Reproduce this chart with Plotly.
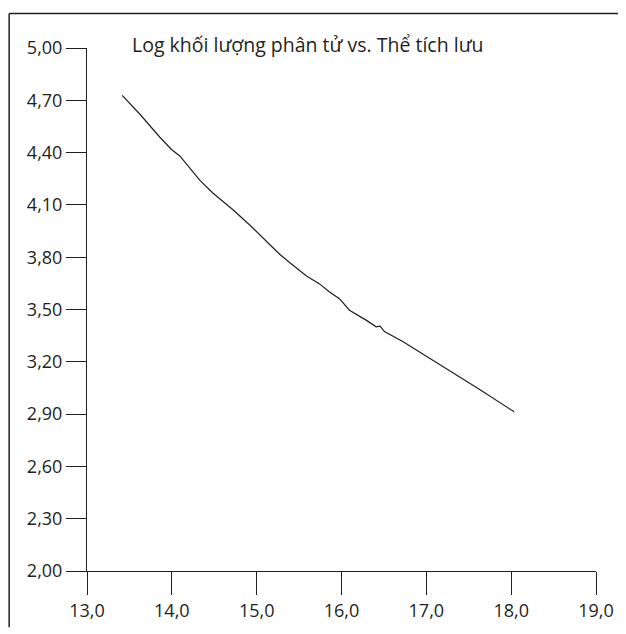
import plotly.graph_objects as go

# Elution volume (x) vs log molecular weight (y)
elution_volume = [13.415, 13.624, 13.859, 13.996, 14.094, 14.212, 14.329, 14.486,
                  14.721, 14.918, 15.114, 15.271, 15.388, 15.584, 15.741, 15.859,
                  15.976, 16.094, 16.290, 16.408, 16.455, 16.506, 16.722, 16.976,
                  17.153, 17.624, 18.035]
log_mw = [4.728, 4.620, 4.488, 4.418, 4.381, 4.309, 4.242, 4.167,
          4.072, 3.985, 3.890, 3.817, 3.770, 3.694, 3.647, 3.600,
          3.562, 3.496, 3.439, 3.401, 3.405, 3.373, 3.316, 3.240,
          3.184, 3.042, 2.913]

x_ticks = [13.0, 14.0, 15.0, 16.0, 17.0, 18.0, 19.0]
y_ticks = [2.00, 2.30, 2.60, 2.90, 3.20, 3.50, 3.80, 4.10, 4.40, 4.70, 5.00]
title_text = "Log khối lượng phân tử vs. Thể tích lưu"

ink = "#231f20"
font_family = "Open Sans"

# figure is placed at (8, 8) in the page; plot area in figure pixels
W, H = 618, 626
L, R, T, B = 79, 589, 40, 569
pw, ph = R - L, B - T

def px(xp):
    return (xp - L) / pw

def py(yp):
    return (B - yp) / ph

fig = go.Figure()
fig.add_trace(go.Scatter(x=elution_volume, y=log_mw, mode="lines",
                         line=dict(color=ink, width=1.2), showlegend=False,
                         hoverinfo="skip"))

fig.update_layout(
    width=W, height=H,
    margin=dict(l=L, r=W - R, t=T, b=H - B, pad=0),
    paper_bgcolor="white", plot_bgcolor="white",
    separators=",.",
    font=dict(family=font_family, size=18, color=ink),
    xaxis=dict(range=[13, 19], tickvals=x_ticks, tickformat=".1f",
               showgrid=False, zeroline=False, showline=True, linecolor=ink,
               linewidth=1, ticks="outside", ticklen=23, tickwidth=1,
               tickcolor=ink, tickfont=dict(size=18, color=ink)),
    yaxis=dict(range=[2, 5], tickvals=y_ticks, tickformat=".2f",
               showgrid=False, zeroline=False, showline=True, linecolor=ink,
               linewidth=1, ticks="outside", ticklen=20, tickwidth=1,
               tickcolor=ink, tickfont=dict(size=18, color=ink)),
    annotations=[dict(text=title_text, xref="paper", yref="paper",
                      x=px(122), y=py(36),
                      xanchor="left", yanchor="middle", showarrow=False,
                      font=dict(size=19.5, color=ink, family=font_family))],
    shapes=[
        dict(type="line", xref="paper", yref="paper",
             x0=px(1), x1=px(W), y0=py(5), y1=py(5),
             line=dict(color=ink, width=1.5)),
        dict(type="line", xref="paper", yref="paper",
             x0=px(1), x1=px(1), y0=py(5), y1=py(H),
             line=dict(color=ink, width=1.5)),
    ],
)

fig.write_html("out.html")
